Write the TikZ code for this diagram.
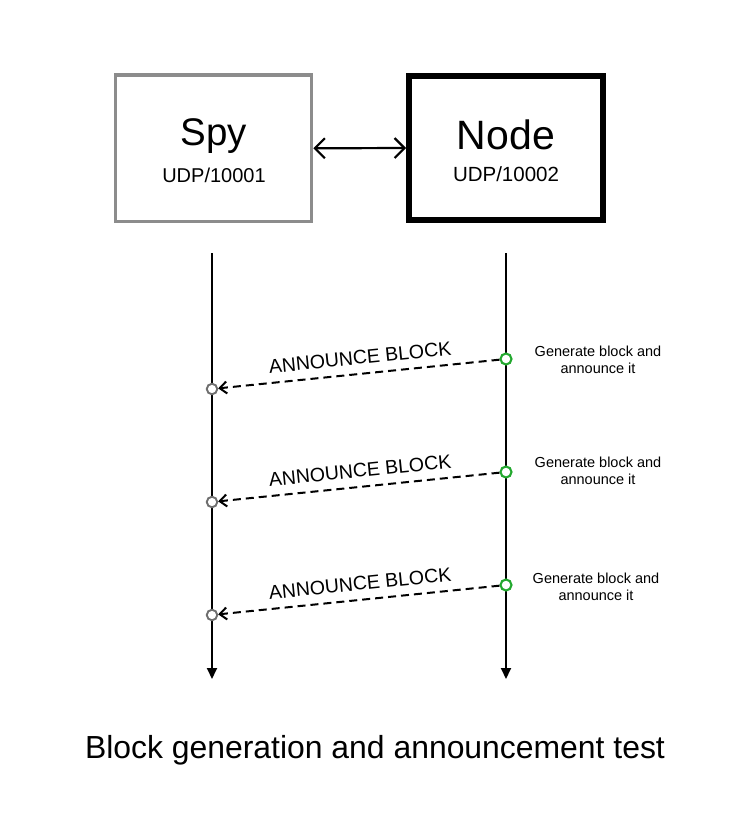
\documentclass[tikz,border=0pt]{standalone}
\usepackage{fontspec}
\setmainfont{Liberation Sans}
\usetikzlibrary{arrows.meta}
\definecolor{boxgray}{HTML}{8C8C8C}
\definecolor{circgray}{HTML}{6E6E6E}
\definecolor{circgreen}{HTML}{22A82E}
\tikzset{
  spybox/.style={draw=boxgray, line width=3.3pt, minimum width=196pt, minimum height=146.7pt, inner sep=0pt},
  nodebox/.style={draw=black, line width=5.8pt, minimum width=194pt, minimum height=144pt, inner sep=0pt},
  lifeline/.style={line width=1.8pt, -{Triangle[length=11pt,width=10pt]}},
  gcirc/.style={circle, draw=circgray, fill=white, line width=1.9pt, minimum size=10.5pt, inner sep=0pt},
  ncirc/.style={circle, draw=circgreen, fill=white, line width=2.1pt, minimum size=11pt, inner sep=0pt},
  msg/.style={line width=2pt, dash pattern=on 8pt off 5pt, -{Straight Barb[length=7pt,width=12pt]}},
  msglabel/.style={pos=0.49, sloped, above=8.5pt, inner sep=0pt, font=\fontsize{19.5}{22}\selectfont},
  note/.style={align=center, font=\fontsize{14.5}{17}\selectfont},
}
\begin{document}
\begin{tikzpicture}[x=1pt,y=-1pt]
\useasboundingbox (0,0) rectangle (751,831);
% boxes
\node[spybox] (spy) at (213.7,148.3) {};
\node[nodebox] (node) at (506,148) {};
\node[anchor=base, inner sep=0pt, font=\fontsize{38.5}{40}\selectfont] (spyname) at (213.5,145) {Spy};
\node[anchor=base, inner sep=0pt, font=\fontsize{20}{22}\selectfont] (spyport) at (214,182.5) {UDP/10001};
\node[anchor=base, inner sep=0pt, font=\fontsize{41}{44}\selectfont] (nodename) at (506,149) {Node};
\node[anchor=base, inner sep=0pt, font=\fontsize{20.5}{22}\selectfont] (nodeport) at (506,181.7) {UDP/10002};
\draw[line width=2.2pt, {Straight Barb[length=10pt,width=20pt]}-{Straight Barb[length=10pt,width=20pt]}] (spy.east) -- (node.west);
% lifelines
\coordinate (s0) at (212,253);
\coordinate (s9) at (212,679);
\coordinate (n0) at (506,253);
\coordinate (n9) at (506,679);
\draw[lifeline] (s0) -- (s9);
\draw[lifeline] (n0) -- (n9);
% messages
\foreach \i/\ny/\sy in {1/359/389, 2/472/502, 3/585/615} {
  \node[ncirc] (n\i) at (506,\ny) {};
  \node[gcirc] (s\i) at (212,\sy) {};
  \draw[msg] (n\i) -- node[msglabel] {ANNOUNCE BLOCK} (s\i);
}
\node[note] (note1) at (598,360) {Generate block and\\announce it};
\node[note] (note2) at (598,471) {Generate block and\\announce it};
\node[note] (note3) at (596,587) {Generate block and\\announce it};
% title
\node[anchor=base, font=\fontsize{31.9}{34}\selectfont, inner sep=0pt] (title) at (375,758.3) {Block generation and announcement test};
\end{tikzpicture}
\end{document}
